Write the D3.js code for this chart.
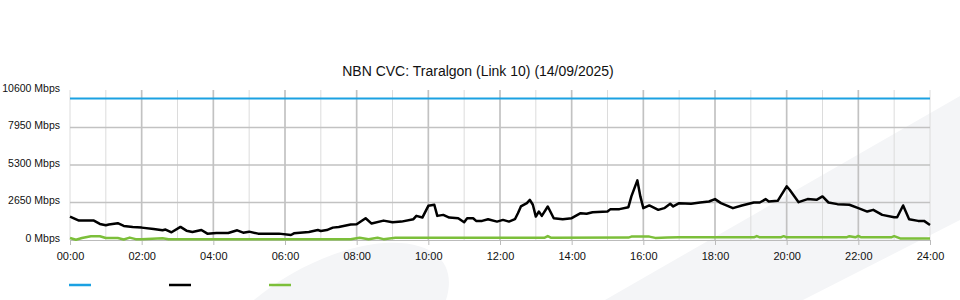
<!DOCTYPE html>
<html>
<head>
<meta charset="utf-8">
<script src="https://cdn.jsdelivr.net/npm/d3@7"></script>
<style>
  body { margin: 0; background: #fff; }
  svg text { font-family: "Liberation Sans", Arial, sans-serif; }
</style>
</head>
<body>
<div id="chart"></div>
<script>
// ---- data ----
const title = 'NBN CVC: Traralgon (Link 10) (14/09/2025)';
const yTicks = [0, 2650, 5300, 7950, 10600];
const xTickLabels = ['00:00','02:00','04:00','06:00','08:00','10:00','12:00','14:00','16:00','18:00','20:00','22:00','24:00'];

// capacity (blue)
const capTimes = ['00:00', '24:00'];
const capValues = [10000, 10000];

// traffic (black)
const trafTimes = ['00:00','00:15','00:40','00:50','01:00','01:05','01:20','01:30','01:45','02:00','02:20','02:35','02:40','02:50',
  '03:05','03:15','03:25','03:40','03:50','04:05','04:25','04:40','04:50','05:00','05:15','05:50','06:10','06:15','06:40','06:55',
  '07:00','07:10','07:20','07:30','07:50','08:00','08:15','08:25','08:45','09:00','09:15','09:35','09:40','09:50','10:00','10:10',
  '10:15','10:25','10:35','10:50','11:00','11:05','11:15','11:20','11:30','11:40','11:55','12:05','12:15','12:25','12:30','12:35',
  '12:45','12:50','12:55','13:00','13:05','13:10','13:20','13:30','13:45','14:00','14:15','14:25','14:35','15:00','15:05','15:20',
  '15:35','15:40','15:50','15:55','16:00','16:10','16:25','16:35','16:45','16:50','17:00','17:20','17:35','17:50','18:00','18:10',
  '18:30','18:45','19:05','19:15','19:25','19:30','19:45','20:00','20:05','20:20','20:35','20:50','21:00','21:10','21:25','21:45',
  '22:00','22:15','22:25','22:40','23:00','23:05','23:15','23:25','23:40','23:50','24:00'];
const trafValues = [1655,1370,1370,1135,1040,1090,1185,995,925,875,780,685,740,545,
  925,660,570,710,450,495,495,685,520,590,450,450,355,470,570,710,
  640,700,875,925,1100,1115,1540,1160,1370,1255,1300,1470,1705,1585,2415,2490,
  1705,1775,1585,1540,1255,1540,1540,1350,1350,1470,1300,1420,1300,1470,1895,2370,
  2605,2840,2490,1655,2010,1705,2370,1540,1470,1540,1895,1850,1965,2010,2180,2180,
  2320,3080,4215,3080,2250,2440,2130,2250,2560,2370,2605,2560,2650,2720,2890,2605,
  2250,2440,2650,2650,2890,2720,2770,3790,3550,2675,2890,2840,3080,2650,2535,2490,
  2250,2010,2130,1775,1610,1610,2440,1470,1350,1350,1065];

// second traffic series (green)
const greenTimes = ['00:00','00:10','00:20','00:35','00:50','01:00','01:20','01:30','01:40','01:50','02:00','02:35','02:45','03:00',
  '07:30','07:50','08:05','08:20','08:35','08:45','09:05','13:15','13:20','13:25','15:35','15:40','16:10','16:20','16:40','17:00',
  '19:05','19:10','19:15','19:50','19:55','20:00','21:40','21:45','21:55','22:00','22:05','22:55','23:00','23:10','24:00'];
const greenValues = [140,20,140,260,260,140,140,40,170,60,50,120,50,50,
  50,60,165,60,160,60,165,165,275,165,170,240,240,150,170,190,
  190,280,190,190,270,190,190,270,190,290,190,190,270,110,110];

// ---- layout ----
const W = 960, H = 300;
const mLeft = 70, mRight = 930, mTop = 90, mBottom = 240;

const toMin = s => { const p = s.split(':'); return +p[0] * 60 + +p[1]; };

const svg = d3.select('#chart').append('svg')
  .attr('width', W).attr('height', H);

// faint watermark in the background
svg.append('path')
  .attr('d', 'M254,300 C290,270 340,246 385,243 C432,240 458,262 446,300 Z')
  .attr('fill', '#f4f5f7');
svg.append('path')
  .attr('d', 'M605,300 L960,96 L960,220 L803,300 Z')
  .attr('fill', '#f4f5f7');

const x = d3.scaleLinear().domain([0, 1440]).range([mLeft, mRight]);
const y = d3.scaleLinear().domain([0, 10600]).range([mBottom, mTop]);

const g = svg.append('g');

// hourly grid, every 2 hours darker
const major = d => d % 120 === 0 && d > 0 && d < 1440;
g.selectAll('line.vgrid')
  .data(d3.range(0, 1441, 60))
  .enter().append('line')
  .attr('x1', d => x(d)).attr('x2', d => x(d))
  .attr('y1', mTop).attr('y2', mBottom)
  .attr('stroke', d => major(d) ? '#c2c2c2' : '#dcdcdc')
  .attr('stroke-width', d => major(d) ? 1.7 : 1);

g.selectAll('line.hgrid')
  .data(yTicks.slice(1, -1))
  .enter().append('line')
  .attr('x1', mLeft).attr('x2', mRight)
  .attr('y1', d => y(d)).attr('y2', d => y(d))
  .attr('stroke', '#c2c2c2').attr('stroke-width', 1.7);

// axes
const xAxis = g.append('g')
  .attr('transform', `translate(0, ${mBottom})`)
  .call(d3.axisBottom(x)
    .tickValues(d3.range(0, 1441, 120))
    .tickFormat((d, i) => xTickLabels[i])
    .tickSize(5).tickPadding(7));
xAxis.select('.domain').attr('stroke', '#bbb');
xAxis.selectAll('.tick line').attr('stroke', '#bbb');
xAxis.selectAll('text').attr('font-size', 11).attr('fill', '#111')
  .attr('font-family', '"Liberation Sans", Arial, sans-serif');

const yAxis = g.append('g')
  .attr('transform', `translate(${mLeft}, 0)`)
  .call(d3.axisLeft(y)
    .tickValues(yTicks)
    .tickFormat(d => d + ' Mbps')
    .tickSize(0).tickPadding(10));
yAxis.select('.domain').remove();
yAxis.selectAll('text').attr('font-size', 10.5).attr('fill', '#111')
  .attr('y', -2)
  .attr('font-family', '"Liberation Sans", Arial, sans-serif');

// series
function series(times, values) {
  return times.map((t, i) => ({ t: toMin(t), v: values[i] }));
}
const line = d3.line().x(d => x(d.t)).y(d => y(d.v));

g.append('path').datum(series(capTimes, capValues))
  .attr('d', line).attr('fill', 'none')
  .attr('stroke', '#1ba1e2').attr('stroke-width', 2);

g.append('path').datum(series(greenTimes, greenValues))
  .attr('d', line).attr('fill', 'none')
  .attr('stroke', '#7cbf3a').attr('stroke-width', 2.5)
  .attr('stroke-linejoin', 'round');

g.append('path').datum(series(trafTimes, trafValues))
  .attr('d', line).attr('fill', 'none')
  .attr('stroke', '#000').attr('stroke-width', 2.5)
  .attr('stroke-linejoin', 'round');

// title
svg.append('text')
  .attr('x', 478).attr('y', 76)
  .attr('text-anchor', 'middle')
  .attr('font-size', 14).attr('fill', '#111')
  .text(title);

// legend swatches (no labels in the original)
const legendColors = ['#1ba1e2', '#000', '#7cbf3a'];
svg.selectAll('line.legend')
  .data(legendColors)
  .enter().append('line')
  .attr('x1', (d, i) => 69 + i * 100).attr('x2', (d, i) => 91 + i * 100)
  .attr('y1', 285).attr('y2', 285)
  .attr('stroke', d => d).attr('stroke-width', 2.5);
</script>
</body>
</html>
